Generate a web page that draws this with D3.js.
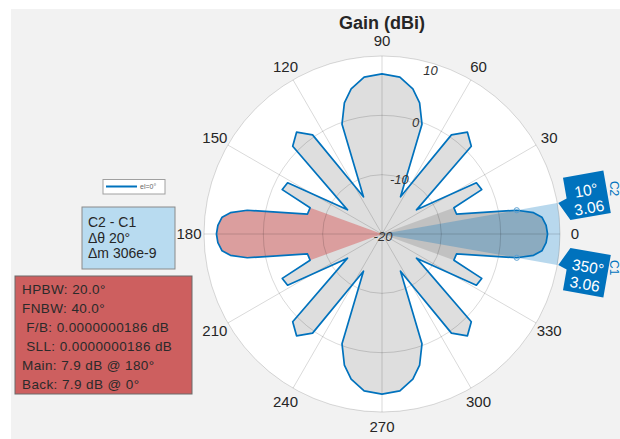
<!DOCTYPE html>
<html><head><meta charset="utf-8">
<script src="https://cdn.jsdelivr.net/npm/d3@7"></script>
<style>
body{margin:0;background:#fff}
text{font-family:"Liberation Sans",Arial,Helvetica,sans-serif}
</style>
</head><body>
<svg id="chart" width="620" height="439"></svg>
<script>
// ---- data ----
const patternAngles = [0,3,6,8,10,15,20,24,28.5,35,44.5,50,55,63.5,70,74,78,83.5,90,
  96.5,102,106,110,116.5,125,130,135.5,145,151.5,156,160,165,170,172,174,177,180,
  183,186,188,190,195,200,204,208.5,215,224.5,230,235,243.5,250,254,258,263.5,270,
  276.5,282,286,290,296.5,305,310,315.5,325,331.5,336,340,345,350,352,354,357];
const patternGains = [7.9,7.7,7.1,5.8,3.06,-7.0,-7.1,-1.6,-1.9,-12.9,1.1,2.4,0.4,-13.0,-0.3,3.0,5.0,6.6,7.0,
  6.6,5.0,3.0,-0.3,-13.0,0.4,2.4,1.1,-12.9,-1.9,-1.6,-7.1,-7.0,3.06,5.8,7.1,7.7,7.9,
  7.7,7.1,5.8,3.06,-7.0,-7.1,-1.6,-1.9,-12.9,1.1,2.4,0.4,-13.0,-0.3,3.0,5.0,6.6,7.0,
  6.6,5.0,3.0,-0.3,-13.0,0.4,2.4,1.1,-12.9,-1.9,-1.6,-7.1,-7.0,3.06,5.8,7.1,7.7];
const angleTicks = [0,30,60,90,120,150,180,210,240,270,300,330];
const radialTicks = [-20,-10,0,10];
const radialDomain = [-20,10];
const mainLobeSpan = [160,200];
const backLobeSpan = [-20,20];
const cursorNames = ["C2","C1"];
const cursorAngles = [10,350];
const cursorValues = [3.06,3.06];
const cursorInfo = ["C2 - C1","\u0394\u03b8 20\u00b0","\u0394m 306e-9"];
const metricsInfo = ["HPBW: 20.0\u00b0","FNBW: 40.0\u00b0"," F/B: 0.0000000186 dB"," SLL: 0.0000000186 dB","Main: 7.9 dB @ 180\u00b0","Back: 7.9 dB @ 0\u00b0"];
const legendLabel = "el=0\u00b0";
const titleText = "Gain (dBi)";

// ---- layout ----
const svg = d3.select("#chart");
const cx = 382, cy = 234, R = 178;
const rScale = d3.scaleLinear().domain(radialDomain).range([0, R]).clamp(true);
const toRad = a => (90 - a) * Math.PI / 180; // math degrees -> d3 radial angle
const pt = (a, r) => [cx + r * Math.cos(a*Math.PI/180), cy - r * Math.sin(a*Math.PI/180)];

svg.append("rect").attr("x",11).attr("y",9).attr("width",609).attr("height",430).attr("fill","#f2f2f2");

const g = svg.append("g").attr("transform",`translate(${cx},${cy})`);
g.append("circle").attr("r",R).attr("fill","#fff");

const pattern = patternAngles.map((a,i)=>({a, v: patternGains[i]}));
const radial = d3.lineRadial().angle(d=>toRad(d.a)).radius(d=>rScale(d.v)).curve(d3.curveLinearClosed);

g.append("path").datum(pattern).attr("d", radial).attr("fill","#dedede");

// main lobe (red) and back lobe (gray) wedges
const mainPts = [{a:mainLobeSpan[0],v:radialDomain[0]}]
  .concat(pattern.filter(d=>d.a>=mainLobeSpan[0] && d.a<=mainLobeSpan[1]))
  .concat([{a:mainLobeSpan[1],v:radialDomain[0]}]);
g.append("path").datum(mainPts).attr("d", radial)
  .attr("fill","rgb(214,70,70)").attr("fill-opacity",0.42);

const backPts = pattern.map(d=>({a: d.a>180 ? d.a-360 : d.a, v:d.v}))
  .filter(d=>d.a>=backLobeSpan[0] && d.a<=backLobeSpan[1]).sort((p,q)=>p.a-q.a);
const backAll = [{a:backLobeSpan[0],v:radialDomain[0]}].concat(backPts).concat([{a:backLobeSpan[1],v:radialDomain[0]}]);
g.append("path").datum(backAll).attr("d", radial)
  .attr("fill","#000").attr("fill-opacity",0.13);

// cursor span wedge
const spanArc = d3.arc().innerRadius(0).outerRadius(R)
  .startAngle(toRad(cursorAngles[0])).endAngle(toRad(cursorAngles[1]-360));
g.append("path").attr("d", spanArc()).attr("fill","#0072bd").attr("fill-opacity",0.28);

// grid
radialTicks.slice(1).forEach(v=>{
  g.append("circle").attr("r",rScale(v)).attr("fill","none").attr("stroke","#000").attr("stroke-opacity",0.15);
});
angleTicks.forEach(a=>{
  const p = [R*Math.cos(a*Math.PI/180), -R*Math.sin(a*Math.PI/180)];
  g.append("line").attr("x1",0).attr("y1",0).attr("x2",p[0]).attr("y2",p[1])
    .attr("stroke","#000").attr("stroke-opacity",0.15);
});

// pattern outline
g.append("path").datum(pattern).attr("d", radial)
  .attr("fill","none").attr("stroke","#0072bd").attr("stroke-width",1.7).attr("stroke-linejoin","round");

// cursor markers
cursorAngles.forEach((a,i)=>{
  const p = pt(a, rScale(cursorValues[i]));
  svg.append("circle").attr("cx",p[0]).attr("cy",p[1]).attr("r",2.6)
    .attr("fill","none").attr("stroke","#5b9fd0").attr("stroke-width",1);
});

// angle labels
angleTicks.forEach(a=>{
  const p = pt(a, R+15);
  svg.append("text").attr("x",p[0]).attr("y",p[1]).attr("dy","0.36em").attr("text-anchor","middle")
    .attr("font-size",15).attr("fill","#262626").text(a);
});
// radial labels
radialTicks.forEach(v=>{
  const r = Math.min(rScale(v), R-6);
  const p = pt(74, r);
  svg.append("text").attr("x",p[0]+1).attr("y",p[1]+2).attr("dy","0.36em").attr("text-anchor","middle")
    .attr("font-size",13).attr("font-style","italic").attr("fill","#333").text(v);
});

// title
svg.append("text").attr("x",cx).attr("y",29).attr("text-anchor","middle").attr("font-size",18)
  .attr("font-weight","bold").attr("fill","#262626").text(titleText);

// cursor callouts
cursorAngles.forEach((a,i)=>{
  const tip = pt(a, R+1);
  const upper = a < 180;
  const rot = -(upper ? a : a-360);
  const grp = svg.append("g").attr("transform",`translate(${tip[0]},${tip[1]}) rotate(${rot})`);
  const path = upper
    ? "M0,0 L9,-3 L9,-24 L50,-24 L50,19 L9,19 Z"
    : "M0,0 L9,3 L9,24 L50,24 L50,-19 L9,-19 Z";
  grp.append("path").attr("d",path).attr("fill","#0072bd");
  const b1 = upper ? -2 : 2, b2 = upper ? 15.5 : 19.5;
  grp.append("text").attr("x",29.5).attr("y",b1).attr("text-anchor","middle").attr("font-size",15.5)
    .attr("fill","#fff").text(cursorAngles[i]+"\u00b0");
  grp.append("text").attr("x",29.5).attr("y",b2).attr("text-anchor","middle").attr("font-size",15.5)
    .attr("fill","#fff").text(cursorValues[i].toFixed(2));
  const lp = upper ? [610, tip[1]-22] : [610, tip[1]-5];
  svg.append("text").attr("transform",`translate(${lp[0]},${lp[1]}) rotate(90)`).attr("font-size",12)
    .attr("fill","#0072bd").text(cursorNames[i]);
});

// legend
svg.append("rect").attr("x",103).attr("y",179.5).attr("width",62).attr("height",14.5)
  .attr("fill","#fff").attr("stroke","#a0a0a0");
svg.append("line").attr("x1",106).attr("x2",137).attr("y1",186.5).attr("y2",186.5)
  .attr("stroke","#0072bd").attr("stroke-width",2);
svg.append("text").attr("x",140).attr("y",189).attr("font-size",7).attr("fill","#666").text(legendLabel);

// cursor info box
svg.append("rect").attr("x",82).attr("y",207).attr("width",93).attr("height",62)
  .attr("fill","#b8dbf0").attr("stroke","#8a8a8a");
cursorInfo.forEach((t,i)=>{
  svg.append("text").attr("x",88).attr("y",227+i*15.5).attr("font-size",14).attr("fill","#262626").text(t);
});

// antenna metrics box
svg.append("rect").attr("x",15).attr("y",276).attr("width",177).attr("height",118)
  .attr("fill","#cd5f5f").attr("stroke","#6a6a6a");
metricsInfo.forEach((t,i)=>{
  svg.append("text").attr("x",22).attr("y",294+i*18.9).attr("font-size",13.5).attr("letter-spacing",0.4)
    .attr("fill","#2a2a2a").style("white-space","pre").text(t);
});
</script>
</body></html>
